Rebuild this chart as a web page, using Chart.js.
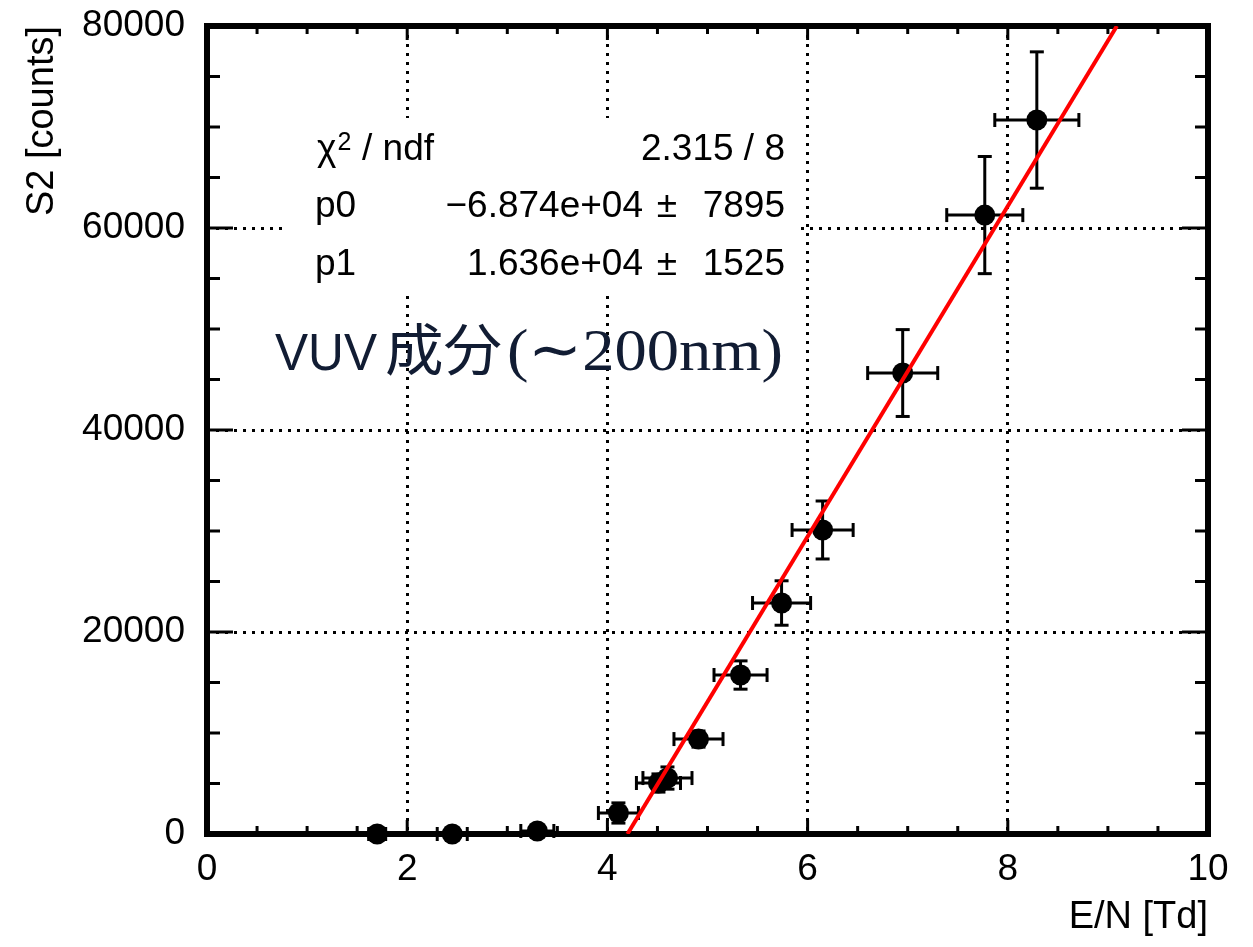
<!DOCTYPE html>
<html>
<head>
<meta charset="utf-8">
<script src="https://cdn.jsdelivr.net/npm/chart.js@4"></script>
<style>
  html, body { margin: 0; padding: 0; background: #fff; }
  #wrap { width: 1253px; height: 947px; }
</style>
</head>
<body>
<div id="wrap"><canvas id="chart" width="1253" height="947"></canvas></div>
<script>
// S2 vs E/N with linear fit (ROOT-style graph)

// ── Data ───────────────────────────────────────────────────────────────────
const EN      = [1.70, 2.45, 3.30, 4.11, 4.51, 4.60, 4.91, 5.33, 5.74, 6.15, 6.95, 7.77, 8.29];
const EN_ERR  = [0.085, 0.15, 0.165, 0.20, 0.22, 0.245, 0.245, 0.265, 0.29, 0.305, 0.35, 0.38, 0.42];
const S2      = [0, 0, 300, 2080, 5050, 5540, 9400, 15740, 22870, 30100, 45640, 61280, 70690];
const S2_ERR  = [0, 0, 100, 1000, 900, 1100, 800, 1400, 2200, 2870, 4300, 5800, 6750];

// fit line end points (clipped to the frame)
const FIT_X   = [4.20, 9.09];
const FIT_Y   = [0, 80000];

// stat box
const STAT_LABELS = ['p0', 'p1'];
const STAT_VALUES = ['\u22126.874e+04', '1.636e+04'];
const STAT_ERRORS = ['7895', '1525'];
const CHI2_TEXT   = '2.315 / 8';

const ANNOT_PARTS = ['VUV', '成分', '(\u223C200nm)'];

const SANS = '"Liberation Sans", Arial, sans-serif';
const SERIF = '"Liberation Serif", "Times New Roman", serif';
const CJK = '"Noto Sans CJK JP", "Noto Sans CJK SC", sans-serif';

const points = EN.map((x, i) => ({ x, y: S2[i] }));
const fitLine = FIT_X.map((x, i) => ({ x, y: FIT_Y[i] }));

function seg(ctx, x1, y1, x2, y2) {
  ctx.beginPath(); ctx.moveTo(x1, y1); ctx.lineTo(x2, y2); ctx.stroke();
}

// ── Frame, inward ticks, stat box, error bars ──────────────────────────────
const rootFrame = {
  id: 'rootFrame',
  beforeDatasetsDraw(chart) {
    const { ctx, chartArea: a, scales: { x, y } } = chart;
    ctx.save();

    // borderless white stat box hides the grid behind it
    ctx.fillStyle = '#fff';
    ctx.fillRect(287, 118, 513, 175);

    ctx.strokeStyle = '#000';
    ctx.lineWidth = 3;
    for (let k = 0; k <= 20; k++) {
      const px = x.getPixelForValue(k * 0.5);
      const len = k % 4 === 0 ? 14 : 8;
      seg(ctx, px, a.bottom, px, a.bottom - len);
      seg(ctx, px, a.top, px, a.top + len);
    }
    for (let k = 0; k <= 16; k++) {
      const py = y.getPixelForValue(k * 5000);
      const len = k % 4 === 0 ? 26 : 13;
      seg(ctx, a.left, py, a.left + len, py);
      seg(ctx, a.right, py, a.right - len, py);
    }
    ctx.lineWidth = 6;
    ctx.strokeRect(a.left, a.top, a.right - a.left, a.bottom - a.top);

    // stat text
    ctx.fillStyle = '#000';
    ctx.textBaseline = 'alphabetic';
    ctx.font = '37px ' + SANS;
    ctx.textAlign = 'left';
    ctx.fillText('\u03C7', 317, 160);
    const chiW = ctx.measureText('\u03C7').width;
    ctx.fillText('/ ndf', 362, 160);
    ctx.font = '25px ' + SANS;
    ctx.fillText('2', 317 + chiW + 1, 150);
    ctx.font = '37px ' + SANS;
    ctx.textAlign = 'right';
    ctx.fillText(CHI2_TEXT, 785, 160);
    STAT_LABELS.forEach((lab, i) => {
      const base = 217 + i * 58;
      ctx.textAlign = 'left';
      ctx.fillText(lab, 315, base);
      ctx.textAlign = 'right';
      ctx.fillText(STAT_VALUES[i], 643, base);
      ctx.fillText(STAT_ERRORS[i], 785, base);
      ctx.textAlign = 'center';
      ctx.fillText('\u00B1', 667, base);
    });

    // error bars with end caps
    ctx.lineWidth = 3;
    const cap = 7;
    EN.forEach((ex, i) => {
      const px = x.getPixelForValue(ex);
      const py = y.getPixelForValue(S2[i]);
      if (EN_ERR[i] > 0) {
        const l = x.getPixelForValue(ex - EN_ERR[i]);
        const r = x.getPixelForValue(ex + EN_ERR[i]);
        seg(ctx, l, py, r, py);
        seg(ctx, l, py - cap, l, py + cap);
        seg(ctx, r, py - cap, r, py + cap);
      }
      if (S2_ERR[i] > 0) {
        const t = y.getPixelForValue(S2[i] + S2_ERR[i]);
        const b = y.getPixelForValue(S2[i] - S2_ERR[i]);
        seg(ctx, px, t, px, b);
        seg(ctx, px - cap, t, px + cap, t);
        seg(ctx, px - cap, b, px + cap, b);
      }
    });
    ctx.restore();
  },
  afterDraw(chart) {
    const { ctx } = chart;
    ctx.save();
    ctx.fillStyle = '#111c33';
    ctx.textBaseline = 'alphabetic';
    ctx.textAlign = 'left';
    // each part stretched into the span it takes in the original
    const spans = [[275, 102, '51px ' + SANS], [385, 117, '56px ' + CJK], [507, 276, '60px ' + SERIF]];
    ANNOT_PARTS.forEach((txt, i) => {
      const [x0, w, font] = spans[i];
      ctx.font = font;
      const m = ctx.measureText(txt).width;
      ctx.save();
      ctx.translate(x0, 370);
      ctx.scale(w / m, 1);
      ctx.fillText(txt, 0, 0);
      ctx.restore();
    });
    ctx.restore();
  }
};

new Chart(document.getElementById('chart').getContext('2d'), {
  type: 'scatter',
  data: {
    datasets: [
      {
        type: 'line',
        data: fitLine,
        borderColor: '#ff0000',
        borderWidth: 4,
        pointRadius: 0,
        fill: false,
        order: 0
      },
      {
        data: points,
        backgroundColor: '#000',
        borderColor: '#000',
        borderWidth: 0,
        pointRadius: 10.5,
        pointHoverRadius: 10.5,
        clip: false,
        order: 1
      }
    ]
  },
  options: {
    responsive: false,
    animation: false,
    events: [],
    layout: { padding: { left: 0, right: 45, top: 26, bottom: 0 } },
    plugins: { legend: { display: false }, tooltip: { enabled: false } },
    scales: {
      x: {
        type: 'linear',
        min: 0, max: 10,
        afterFit: s => { s.height = 113; },
        ticks: {
          stepSize: 2,
          maxRotation: 0,
          color: '#000',
          padding: 14,
          font: { family: SANS, size: 37 }
        },
        grid: { color: '#000', lineWidth: 3, drawTicks: false },
        border: { display: false, dash: [3, 6] },
        title: {
          display: true,
          text: 'E/N [Td]',
          align: 'end',
          color: '#000',
          font: { family: SANS, size: 38 },
          padding: { top: 0, bottom: 7 }
        }
      },
      y: {
        type: 'linear',
        min: 0, max: 80000,
        afterFit: s => { s.width = 207; s.paddingTop = 0; s.paddingBottom = 0; },
        ticks: {
          stepSize: 20000,
          color: '#000',
          padding: 22,
          font: { family: SANS, size: 37, lineHeight: 0.8 },
          callback: v => String(v)
        },
        grid: { color: '#000', lineWidth: 3, drawTicks: false },
        border: { display: false, dash: [3, 6] },
        title: {
          display: true,
          text: 'S2 [counts]',
          align: 'end',
          color: '#000',
          font: { family: SANS, size: 38 },
          padding: { top: 20, bottom: 0 }
        }
      }
    }
  },
  plugins: [rootFrame]
});
</script>
</body>
</html>
